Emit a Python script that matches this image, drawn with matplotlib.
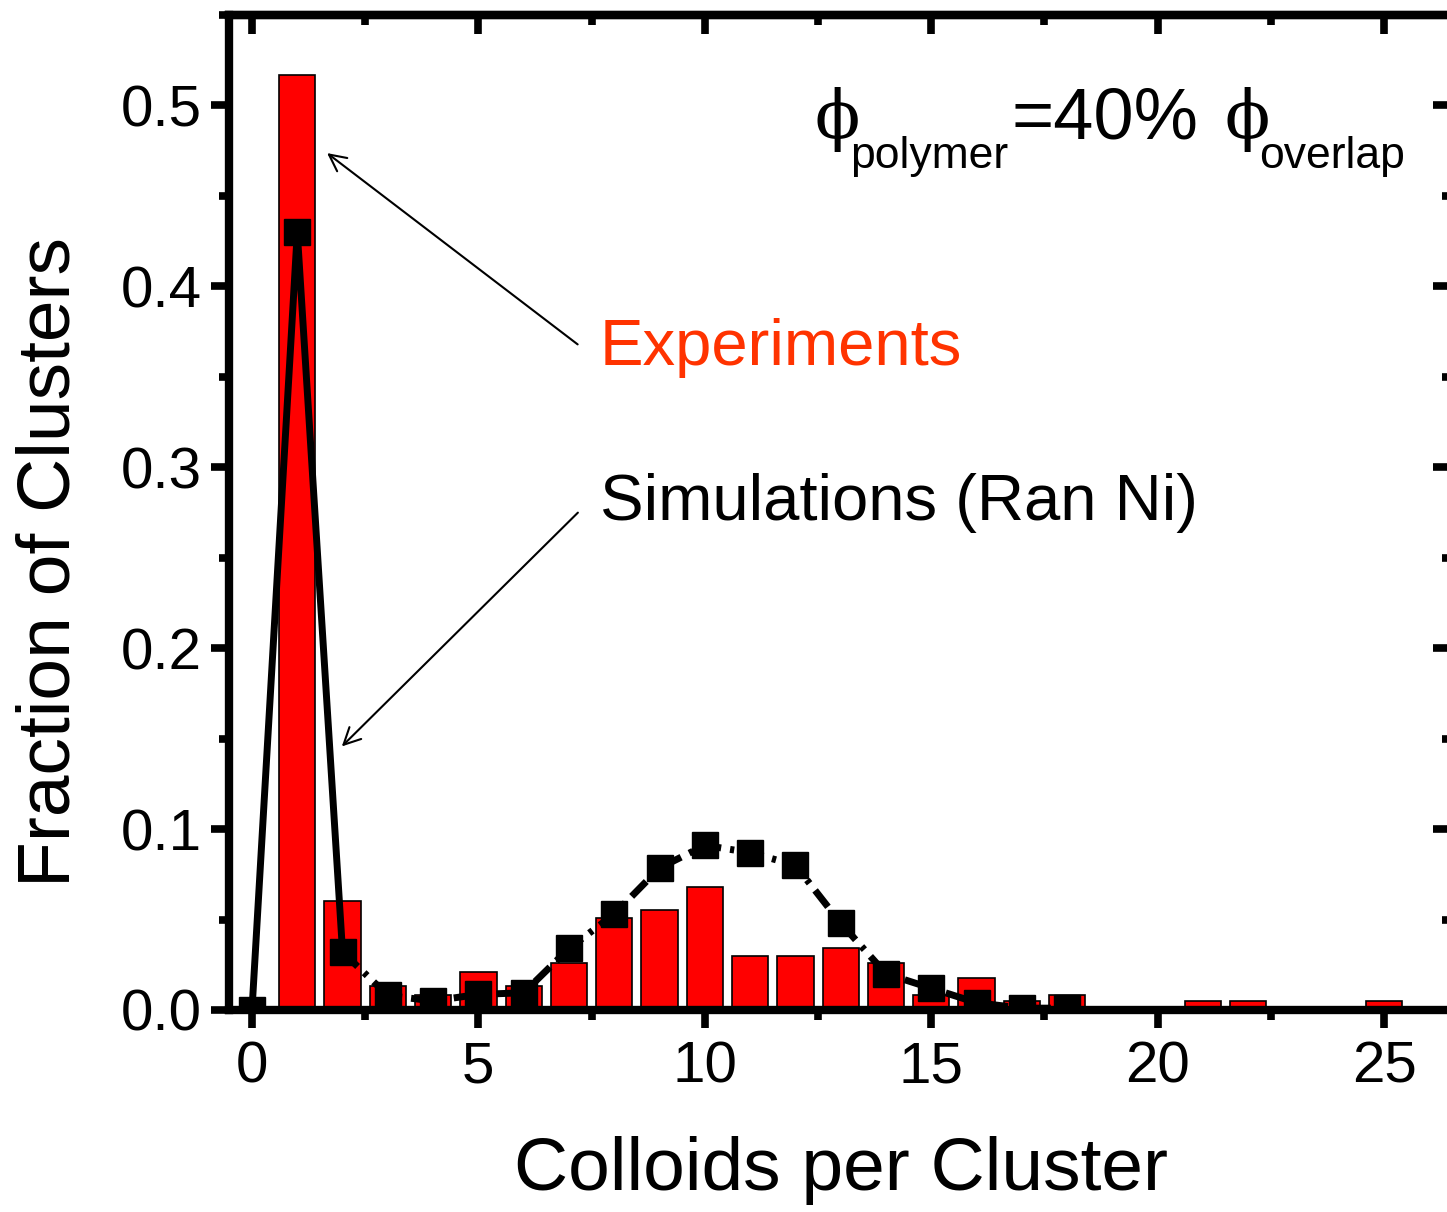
import matplotlib
matplotlib.use("Agg")
import matplotlib.pyplot as plt
from matplotlib.ticker import MultipleLocator, FormatStrFormatter

plt.rcParams['font.family'] = ['Liberation Sans', 'DejaVu Sans']

# experimental histogram (red bars)
exp_size = list(range(1, 26))
exp_frac = [0.517, 0.060, 0.013, 0.008, 0.021, 0.013, 0.026, 0.051, 0.055, 0.068,
            0.030, 0.030, 0.034, 0.026, 0.0085, 0.0175, 0.005, 0.0085, 0.0, 0.0,
            0.005, 0.005, 0.0, 0.0, 0.005]

# simulations (black squares)
sim_size = list(range(0, 19))
sim_frac = [0.0, 0.430, 0.032, 0.008, 0.005, 0.0086, 0.0095, 0.034, 0.053, 0.0785,
            0.091, 0.087, 0.080, 0.048, 0.020, 0.012, 0.004, 0.001, 0.001]

fig = plt.figure(figsize=(14.47, 12.12), dpi=100)
ax = fig.add_axes([0.1585, 0.1667, 0.845, 0.8209])

ax.bar(exp_size, exp_frac, width=0.8, color='#ff0000', edgecolor='black', linewidth=1.2, zorder=2)

# solid segment for the first points, dash-dot for the rest
ax.plot(sim_size[:3], sim_frac[:3], color='black', lw=5, zorder=3)
ax.plot(sim_size[2:], sim_frac[2:], color='black', lw=5, linestyle=(0, (3, 1.3, 0.6, 1.3)), zorder=3)
ax.plot(sim_size, sim_frac, 's', color='black', markersize=19, zorder=4)

ax.set_xlim(-0.5, 26.5)
ax.set_ylim(0, 0.55)

ax.xaxis.set_major_locator(MultipleLocator(5))
ax.xaxis.set_minor_locator(MultipleLocator(2.5))
ax.yaxis.set_major_locator(MultipleLocator(0.1))
ax.yaxis.set_minor_locator(MultipleLocator(0.05))
ax.yaxis.set_major_formatter(FormatStrFormatter('%.1f'))

for s in ax.spines.values():
    s.set_linewidth(6)
    s.set_zorder(5)

ax.tick_params(axis='both', which='major', direction='out', length=13, width=5.5,
               labelsize=42, top=False, right=False)
ax.tick_params(axis='both', which='minor', direction='out', length=7, width=5.5,
               top=False, right=False)
ax.tick_params(axis='x', which='major', pad=9)
ax.tick_params(axis='y', which='major', pad=7)

# inward ticks on top and right
ax_top = ax.secondary_xaxis('top')
ax_top.xaxis.set_major_locator(MultipleLocator(5))
ax_top.xaxis.set_minor_locator(MultipleLocator(2.5))
ax_top.tick_params(which='major', direction='in', length=14, width=5.5, labeltop=False)
ax_top.tick_params(which='minor', direction='in', length=7, width=5.5)
ax_top.spines['top'].set_linewidth(6)
ax_right = ax.secondary_yaxis('right')
ax_right.yaxis.set_major_locator(MultipleLocator(0.1))
ax_right.yaxis.set_minor_locator(MultipleLocator(0.05))
ax_right.tick_params(which='major', direction='in', length=14, width=5.5, labelright=False)
ax_right.tick_params(which='minor', direction='in', length=7, width=5.5)
ax_right.spines['right'].set_linewidth(6)

ax.set_xlabel('Colloids per Cluster', fontsize=54, labelpad=30)
ax.set_ylabel('Fraction of Clusters', fontsize=54, labelpad=26)
ax.yaxis.label.set_y(0.45)

# phi annotation
serif = ['DejaVu Serif']
ax.text(12.43, 0.4818, '\u03d5', fontsize=48, family=serif, va='baseline', clip_on=False)
ax.text(13.2, 0.4652, 'polymer', fontsize=32, va='baseline')
ax.text(16.78, 0.4818, '=40%', fontsize=52, va='baseline')
ax.text(21.48, 0.4818, '\u03d5', fontsize=48, family=serif, va='baseline', clip_on=False)
ax.text(22.25, 0.4652, 'overlap', fontsize=32, va='baseline')

ax.text(7.68, 0.366, 'Experiments', fontsize=47, color='#ff3300', va='center')
ax.text(7.68, 0.280, 'Simulations (Ran Ni)', fontsize=47, color='black', va='center')

arrow = dict(arrowstyle='->', color='black', lw=1.5, mutation_scale=30)
ax.annotate('', xy=(1.61, 0.4746), xytext=(7.24, 0.367), arrowprops=arrow)
ax.annotate('', xy=(1.94, 0.1446), xytext=(7.24, 0.276), arrowprops=arrow)

fig.savefig('out.png', dpi=100)
